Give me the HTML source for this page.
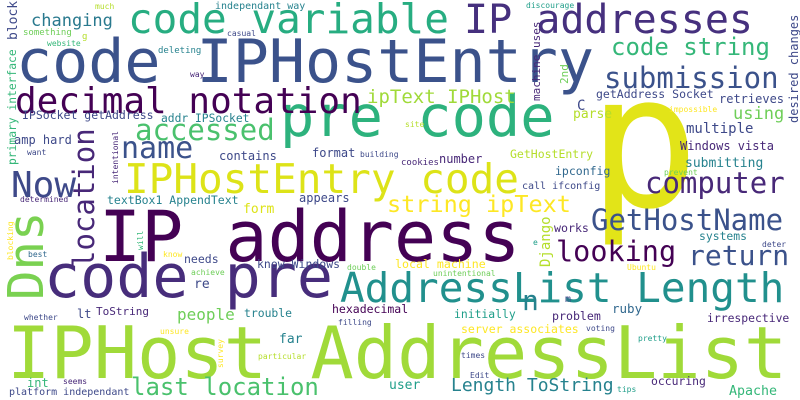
<!DOCTYPE html>
<html><head><meta charset="utf-8"><style>
html,body{margin:0;padding:0;background:#fff;width:800px;height:400px;overflow:hidden}
svg text{font-family:"DejaVu Sans Mono","Liberation Mono",monospace;white-space:pre}
</style></head><body>
<svg id="cloud" width="800" height="400" viewBox="0 0 800 400" xmlns="http://www.w3.org/2000/svg">
<rect x="0" y="0" width="800" height="400" fill="#ffffff"/>
</svg>
<script>
// words, weights (font size) and colours
const words = ["code IPHostEntry","pre code","p","IP address","code pre","IPHost AddressList","AddressList Length","code variable","IP addresses","decimal notation","IPHostEntry code","Dns","location","Now","name","accessed","changing","block","much","something","g","website","independant way","casual","deleting","way","discourage","machine uses","2nd","desired changes","code string","submission","ipText IPHost","getAddress Socket","retrieves","C","impossible","parse","using","site","multiple","Windows vista","cookies","number","GetHostEntry","submitting","ipconfig","prevent","computer","call ifconfig","IPSocket getAddress","addr IPSocket","primary interface","amp hard","want","intentional","contains","format","building","appears","determined","textBox1 AppendText","form","string ipText","GetHostName","Django","works","looking","systems","e","deter","return","local machine","Ubuntu","unintentional","n","m","initially","ruby","problem","irrespective","server associates","voting","pretty","times","Edit","Length ToString","occuring","tips","Apache","user","last location","platform independant","int","seems","hexadecimal","lt","ToString","people","trouble","filling","far","unsure","whether","particular","survey","blocking","best","will","know","needs","re","achieve","know Windows","double"];
const weights = [60,57,185,70,60,72,41,41,40,36,41,49,29,36,30,29,17,13,8,9,9,8,10,8,9,8,8,11,11,12,24,29,19,11.5,12,14,8,13,17,8,14,12,9,12,11.5,13,11.5,8,29,10,11.5,11.3,11.3,12,8,8,12,12,8,12,8,11.5,13,23.5,29,14,11.6,28.5,11.4,8,8,28,11.6,8,8,28,10,11.4,12.5,11.6,11.4,11.5,8,8,8,8,18,11.4,8,13.3,13,24,10,12,8,11.5,12,11,16,11.4,8,13,8,8,8,8,8,8,8,8,11.5,13,8,11.5,8];
const colors = ["#3b528b","#2db27d","#e2e418","#440154","#472d7b","#a0da39","#21908d","#27ad81","#46307e","#440154","#dde318","#7ad151","#482878","#3e4989","#3b528b","#4ac16d","#29798e","#3e4989","#b5de2b","#6ece58","#b5de2b","#35b779","#26828e","#3e4989","#26828e","#482878","#1f9e89","#482878","#6ece58","#3e4989","#35b779","#3b528b","#a0da39","#3e4989","#3e4989","#3e4989","#fde725","#b5de2b","#6ece58","#b5de2b","#3e4989","#482878","#482878","#482878","#b5de2b","#26828e","#31688e","#6ece58","#482878","#3e4989","#3e4989","#26828e","#35b779","#3e4989","#3e4989","#482878","#3e4989","#3e4989","#3e4989","#3e4989","#482878","#26828e","#dde318","#fde725","#3b528b","#b5de2b","#482878","#440154","#26828e","#1f9e89","#3e4989","#3b528b","#fde725","#fde725","#6ece58","#26828e","#3e4989","#1f9e89","#31688e","#482878","#482878","#fde725","#3e4989","#1f9e89","#3e4989","#3e4989","#26828e","#482878","#1f9e89","#35b779","#1f9e89","#4ac16d","#3e4989","#35b779","#482878","#440154","#3e4989","#482878","#6ece58","#26828e","#3e4989","#26828e","#fde725","#3e4989","#b5de2b","#fde725","#fde725","#31688e","#35b779","#fde725","#3e4989","#3e4989","#6ece58","#3e4989","#6ece58"];
// layout: [x, baseline y, rotated?]
const layout = [[16,82,0],[280,136,0],[588,206,0],[99,261,0],[44,297,0],[7,378,0],[340,302,0],[128,33,0],[464,33,0],[15,113,0],[124,193,0],[43,300,1],[94,268,1],[11,197,0],[121,158,0],[135,140,0],[31,26,0],[17,40,1],[95,9,0],[23,35,0],[82,39,0],[47,46,0],[215,9,0],[227,36,0],[158,53,0],[190,77,0],[526,8,0],[540,101,1],[568,84,1],[798,123,1],[611,55,0],[604,88,0],[367,103,0],[596,98,0],[719,103,0],[577,110,0],[669,112,0],[573,118,0],[733,119,0],[405,127,0],[686,133,0],[680,150,0],[401,165,0],[439,163,0],[510,158,0],[685,167,0],[555,175,0],[664,175,0],[645,193,0],[522,189,0],[22,119,0],[161,122,0],[16,165,1],[14,144,0],[27,155,0],[118,184,1],[219,160,0],[312,157,0],[360,157,0],[299,202,0],[20,202,0],[107,204,0],[243,213,0],[387,212,0],[591,230,0],[550,267,1],[554,232,0],[556,261,0],[699,240,0],[533,245,0],[762,247,0],[688,265,0],[395,268,0],[627,270,0],[433,276,0],[522,310,0],[565,302,0],[454,318,0],[612,313,0],[552,320,0],[707,322,0],[461,333,0],[586,331,0],[638,341,0],[461,358,0],[470,378,0],[451,391,0],[651,385,0],[617,392,0],[729,395,0],[389,389,0],[131,395,0],[9,395,0],[27,387,0],[63,384,0],[332,313,0],[77,318,0],[96,315,0],[177,320,0],[244,317,0],[338,325,0],[279,343,0],[160,334,0],[24,320,0],[258,359,0],[223,368,1],[13,260,1],[28,257,0],[143,250,1],[163,257,0],[184,263,0],[194,288,0],[191,275,0],[257,268,0],[347,270,0]];
const svg = document.getElementById('cloud');
const NS = 'http://www.w3.org/2000/svg';
for (let i = 0; i < words.length; i++) {
  const t = document.createElementNS(NS, 'text');
  const pos = layout[i];
  t.setAttribute('x', pos[0]);
  t.setAttribute('y', pos[1]);
  t.setAttribute('font-size', weights[i]);
  t.setAttribute('fill', colors[i]);
  if (pos[2]) t.setAttribute('transform', 'rotate(-90 ' + pos[0] + ' ' + pos[1] + ')');
  
  
  t.textContent = words[i];
  svg.appendChild(t);
}
</script>
</body></html>
